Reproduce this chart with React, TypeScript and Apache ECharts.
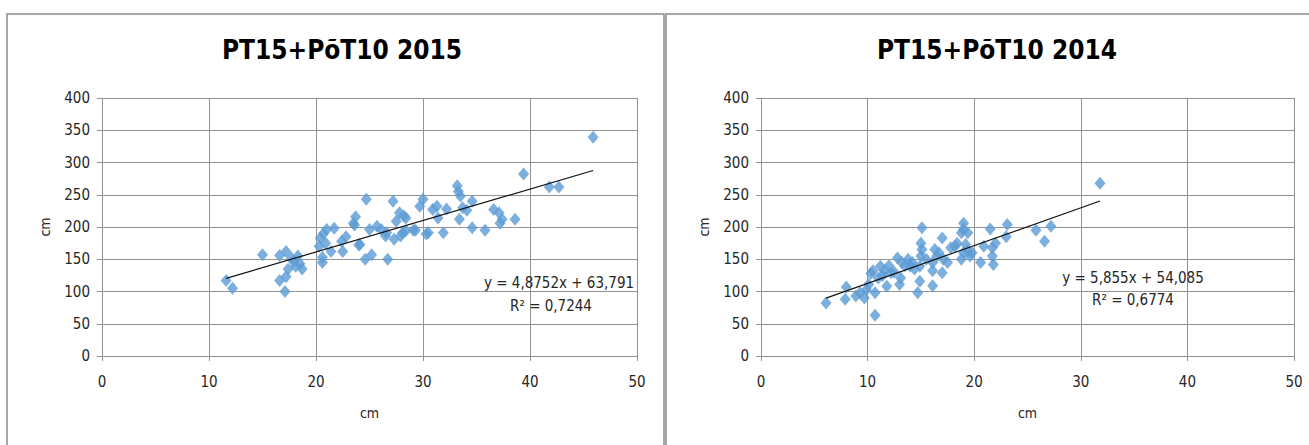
import React, { useEffect, useRef } from "react";
import * as echarts from "echarts";

const title2015 = "PT15+PõT10 2015";
const title2014 = "PT15+PõT10 2014";
const axisUnit = "cm";

const x2015 = [45.9, 39.4, 41.8, 42.7, 11.6, 12.2, 15.0, 16.6, 17.2, 16.6, 17.1, 17.2, 17.7, 18.1, 18.5, 18.7, 17.4, 17.9, 18.3, 20.4, 20.3, 20.6, 20.6, 20.7, 21.0, 21.4, 21.7, 20.9, 22.4, 22.5, 22.8, 23.6, 23.7, 24.1, 24.7, 24.6, 25.2, 25.0, 25.7, 26.1, 26.6, 26.7, 26.5, 27.2, 27.3, 27.5, 27.8, 27.9, 28.2, 28.4, 28.1, 28.4, 29.1, 29.7, 30.0, 30.5, 30.9, 31.3, 31.4, 31.9, 32.2, 33.2, 33.3, 33.5, 33.4, 33.7, 34.1, 34.6, 34.6, 35.8, 36.6, 37.1, 37.2, 37.4, 38.6, 23.5, 24.0, 30.3, 29.3];
const y2015 = [339, 282, 262, 262, 117, 105, 157, 156, 162, 117, 100, 123, 152, 139, 143, 135, 135, 147, 155, 183, 170, 153, 145, 190, 196, 162, 198, 175, 178, 162, 185, 203, 216, 173, 243, 150, 157, 196, 201, 196, 191, 150, 186, 240, 181, 209, 222, 186, 217, 214, 191, 194, 195, 232, 243, 191, 227, 232, 214, 191, 228, 264, 255, 248, 212, 230, 226, 240, 199, 195, 227, 222, 206, 212, 212, 206, 172, 189, 195];

const x2014 = [31.8, 6.1, 7.9, 8.0, 8.9, 9.3, 9.7, 9.9, 10.1, 10.3, 10.7, 10.7, 10.5, 11.0, 11.2, 11.6, 11.8, 12.2, 12.8, 13.0, 13.1, 13.2, 13.8, 14.0, 14.7, 14.9, 15.1, 15.0, 15.1, 15.0, 14.9, 16.1, 16.1, 16.3, 16.1, 17.0, 17.0, 17.1, 16.7, 17.8, 18.2, 18.8, 19.0, 19.0, 18.8, 19.0, 19.4, 19.8, 19.4, 19.2, 20.6, 20.9, 21.5, 21.7, 21.7, 21.8, 22.0, 23.1, 23.0, 25.8, 26.6, 27.2, 12.0, 12.5, 13.5, 14.2, 11.4, 16.5, 18.4, 19.6, 17.5, 15.5, 14.4];
const y2014 = [268, 82, 88, 107, 93, 98, 90, 103, 111, 128, 63, 98, 132, 121, 139, 132, 108, 129, 152, 111, 121, 145, 150, 139, 98, 116, 199, 175, 165, 155, 139, 109, 132, 165, 145, 183, 129, 150, 160, 168, 170, 191, 206, 196, 150, 160, 163, 160, 191, 173, 145, 170, 197, 168, 155, 142, 175, 204, 185, 195, 178, 201, 140, 130, 140, 145, 125, 155, 175, 155, 145, 150, 135];

const slope2015 = 4.8752;
const intercept2015 = 63.791;
const r2_2015 = 0.7244;
const slope2014 = 5.855;
const intercept2014 = 54.085;
const r2_2014 = 0.6774;

const xTicks = [0, 10, 20, 30, 40, 50];
const yTicks = [0, 50, 100, 150, 200, 250, 300, 350, 400];

const FONT = "'Liberation Sans Narrow', 'DejaVu Sans Condensed', 'Liberation Sans', sans-serif";
const GRID_COLOR = "#939393";
const TEXT_COLOR = "#262626";
const MARKER = "#5b9bd5";

const fmt = (v: number) => String(v).replace(".", ",");

function trend(xs: number[], a: number, b: number) {
  const lo = Math.min(...xs);
  const hi = Math.max(...xs);
  return [
    [lo, a * lo + b],
    [hi, a * hi + b],
  ];
}

export default function App() {
  const ref = useRef<HTMLDivElement>(null);
  useEffect(() => {
    if (!ref.current) return;
    const chart = echarts.init(ref.current, undefined, { renderer: "svg" });
    const mkX = (gi: number) => ({
      type: "value",
      gridIndex: gi,
      min: xTicks[0],
      max: xTicks[xTicks.length - 1],
      interval: xTicks[1] - xTicks[0],
      name: axisUnit,
      nameLocation: "middle",
      nameGap: 50,
      nameTextStyle: { fontFamily: FONT, fontSize: 14, color: TEXT_COLOR },
      axisLine: { show: true, lineStyle: { color: GRID_COLOR, width: 1 } },
      axisTick: { show: true, length: 5, lineStyle: { color: GRID_COLOR } },
      axisLabel: { margin: 18, fontFamily: FONT, fontSize: 15, color: TEXT_COLOR },
      splitLine: { show: true, lineStyle: { color: GRID_COLOR, width: 1 } },
    });
    const mkY = (gi: number) => ({
      type: "value",
      gridIndex: gi,
      min: yTicks[0],
      max: yTicks[yTicks.length - 1],
      interval: yTicks[1] - yTicks[0],
      name: axisUnit,
      nameLocation: "middle",
      nameGap: 50,
      nameTextStyle: { fontFamily: FONT, fontSize: 14, color: TEXT_COLOR },
      axisLine: { show: true, lineStyle: { color: GRID_COLOR, width: 1 } },
      axisTick: { show: true, length: 5, lineStyle: { color: GRID_COLOR } },
      axisLabel: { margin: 12, fontFamily: FONT, fontSize: 15, color: TEXT_COLOR },
      splitLine: { show: true, lineStyle: { color: GRID_COLOR, width: 1 } },
    });
    const scatter = (xs: number[], ys: number[], gi: number) => ({
      type: "scatter",
      xAxisIndex: gi,
      yAxisIndex: gi,
      symbol: "diamond",
      symbolSize: [11, 13],
      itemStyle: { color: MARKER },
      data: xs.map((x, i) => [x, ys[i]]),
      z: 3,
    });
    const line = (xs: number[], a: number, b: number, gi: number) => ({
      type: "line",
      xAxisIndex: gi,
      yAxisIndex: gi,
      symbol: "none",
      lineStyle: { color: "#111", width: 1.2 },
      data: trend(xs, a, b),
      z: 4,
    });
    const eqText = (x: number, y: number, t: string) => ({
      type: "text",
      x,
      y,
      style: {
        text: t,
        fontFamily: FONT,
        fontSize: 15,
        fill: TEXT_COLOR,
        textAlign: "center",
        textVerticalAlign: "middle",
      },
      z: 10,
    });
    chart.setOption({
      animation: false,
      backgroundColor: "#ffffff",
      title: [
        {
          text: title2015,
          left: 337,
          top: 32,
          textAlign: "center",
          textStyle: { fontFamily: FONT, fontSize: 26, fontWeight: "bold", color: "#000" },
        },
        {
          text: title2014,
          left: 992,
          top: 32,
          textAlign: "center",
          textStyle: { fontFamily: FONT, fontSize: 26, fontWeight: "bold", color: "#000" },
        },
      ],
      grid: [
        { left: 102, top: 98, width: 535, height: 258 },
        { left: 761, top: 98, width: 533, height: 258 },
      ],
      xAxis: [mkX(0), mkX(1)],
      yAxis: [mkY(0), mkY(1)],
      series: [
        scatter(x2015, y2015, 0),
        line(x2015, slope2015, intercept2015, 0),
        scatter(x2014, y2014, 1),
        line(x2014, slope2014, intercept2014, 1),
      ],
      graphic: [
        {
          type: "rect",
          shape: { x: 7, y: 14, width: 657, height: 460 },
          style: { fill: "none", stroke: "#8a8a8a", lineWidth: 1.5 },
          silent: true,
        },
        {
          type: "rect",
          shape: { x: 666, y: 14, width: 660, height: 460 },
          style: { fill: "none", stroke: "#8a8a8a", lineWidth: 1.5 },
          silent: true,
        },
        eqText(559, 283, `y = ${fmt(slope2015)}x + ${fmt(intercept2015)}`),
        eqText(551, 306, `R² = ${fmt(r2_2015)}`),
        eqText(1133, 278, `y = ${fmt(slope2014)}x + ${fmt(intercept2014)}`),
        eqText(1133, 300, `R² = ${fmt(r2_2014)}`),
      ],
    });
    return () => chart.dispose();
  }, []);
  return (
    <div
      ref={ref}
      style={{ position: "fixed", left: 0, top: 0, width: 1309, height: 445, background: "#fff" }}
    />
  );
}
